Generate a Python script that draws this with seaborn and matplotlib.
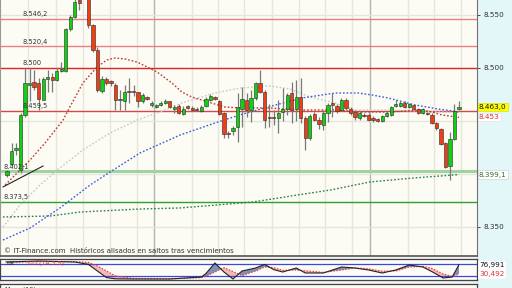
import numpy as np
import pandas as pd
import matplotlib
matplotlib.use("Agg")
import matplotlib.pyplot as plt
from matplotlib.patches import Rectangle
from matplotlib.ticker import FixedLocator, FuncFormatter
import seaborn as sns

sns.set_style("white")
plt.rcParams['font.family'] = ['DejaVu Sans']

# ---------------- data (index points) ----------------
opens = [8399, 8409, 8422, 8403, 8455, 8484, 8486, 8485, 8469, 8489,
         8491, 8488, 8497, 8497, 8536, 8548, 8564, 8583, 8568, 8540,
         8517, 8478, 8489, 8487, 8484, 8469, 8468, 8478, 8478, 8477,
         8468, 8472, 8465, 8463, 8465, 8467, 8468, 8461, 8464, 8456,
         8463, 8462, 8461, 8459, 8464, 8469, 8472, 8468, 8457, 8438,
         8440, 8444, 8461, 8469, 8460, 8471, 8485, 8477, 8453, 8453,
         8452, 8458, 8461, 8476, 8461, 8472, 8452, 8434, 8456, 8451,
         8446, 8457, 8467, 8464, 8460, 8469, 8461, 8458, 8452, 8455,
         8455, 8452, 8451, 8450, 8454, 8455, 8464, 8464, 8467, 8463,
         8465, 8461, 8457, 8457, 8455, 8448, 8442, 8429, 8407, 8433,
         8461]
closes = [8402, 8421, 8424, 8455, 8485, 8485, 8482, 8470, 8489, 8491,
          8488, 8497, 8499, 8536, 8548, 8562, 8561, 8573, 8540, 8517,
          8479, 8489, 8485, 8485, 8469, 8470, 8477, 8477, 8477, 8468,
          8474, 8470, 8466, 8465, 8467, 8468, 8463, 8463, 8457, 8461,
          8462, 8460, 8460, 8463, 8470, 8473, 8470, 8456, 8437, 8437,
          8443, 8463, 8470, 8460, 8471, 8485, 8477, 8451, 8452, 8452,
          8457, 8461, 8474, 8460, 8472, 8452, 8434, 8454, 8451, 8447,
          8457, 8465, 8465, 8459, 8469, 8462, 8457, 8453, 8457, 8454,
          8451, 8451, 8450, 8454, 8457, 8463, 8465, 8467, 8463, 8466,
          8461, 8457, 8461, 8456, 8448, 8443, 8428, 8406, 8433, 8459,
          8463]
highs = [8403, 8429, 8429, 8457, 8500, 8500, 8498, 8490, 8491, 8498,
         8495, 8500, 8505, 8537, 8550, 8568, 8568, 8592, 8573, 8541,
         8519, 8492, 8491, 8488, 8485, 8479, 8484, 8490, 8484, 8477,
         8476, 8473, 8468, 8466, 8468, 8470, 8468, 8465, 8466, 8464,
         8465, 8464, 8463, 8465, 8472, 8475, 8473, 8469, 8458, 8440,
         8445, 8476, 8482, 8476, 8479, 8486, 8498, 8479, 8466, 8460,
         8469, 8481, 8476, 8486, 8488, 8490, 8454, 8456, 8458, 8453,
         8460, 8467, 8476, 8466, 8471, 8471, 8463, 8460, 8459, 8457,
         8457, 8454, 8452, 8455, 8458, 8464, 8469, 8468, 8468, 8467,
         8466, 8462, 8462, 8458, 8457, 8449, 8443, 8430, 8439, 8466,
         8468]
lows = [8397, 8407, 8418, 8401, 8453, 8468, 8479, 8460, 8469, 8477,
        8477, 8487, 8496, 8496, 8534, 8547, 8554, 8568, 8537, 8515,
        8477, 8476, 8484, 8483, 8460, 8460, 8460, 8467, 8473, 8463,
        8467, 8469, 8463, 8462, 8464, 8466, 8462, 8457, 8456, 8455,
        8461, 8459, 8459, 8458, 8463, 8468, 8469, 8455, 8434, 8434,
        8436, 8430, 8444, 8453, 8449, 8469, 8476, 8443, 8444, 8446,
        8438, 8450, 8455, 8448, 8450, 8448, 8422, 8432, 8450, 8442,
        8441, 8449, 8453, 8457, 8459, 8460, 8455, 8451, 8451, 8453,
        8450, 8449, 8449, 8449, 8453, 8454, 8463, 8463, 8462, 8462,
        8460, 8456, 8456, 8455, 8447, 8441, 8427, 8405, 8394, 8432,
        8460]

# moving averages read at sample positions (candle index, value)
ma_red_x = [-0.4, 5.1, 8.4, 12.4, 13.9, 16.8, 19.9, 22.1, 23.9, 26.1, 28.8, 33.2, 36.5,
            38.7, 40.9, 44.5, 48.2, 51.5, 58.2, 64.8, 72.6, 78.1, 84.7, 91.4, 94.0, 96.2, 100]
ma_red_y = [8389.3, 8412.8, 8428.8, 8450.5, 8462.8, 8485.4, 8500.5, 8507.1, 8509.0, 8508.1,
            8505.2, 8495.8, 8485.4, 8476.9, 8472.2, 8467.5, 8462.8, 8461.9, 8461.9, 8460.0,
            8460.0, 8458.1, 8458.1, 8460.0, 8458.1, 8455.3, 8453.0]
ma_gray_x = [-0.9, 2.9, 7.3, 11.7, 16.8, 22.8, 28.8, 33.8, 38.7, 46.0, 51.5, 58.2, 62.6,
             67.0, 72.6, 77.0, 84.7, 95.8, 100]
ma_gray_y = [8349.6, 8370.4, 8389.3, 8405.3, 8422.3, 8438.3, 8450.5, 8458.1, 8466.6, 8476.0,
             8480.7, 8482.6, 8479.8, 8472.2, 8466.6, 8460.0, 8460.0, 8458.1, 8458.1]
ma_blue_x = [-0.9, 5.1, 11.7, 18.4, 22.8, 29.4, 38.3, 46.0, 51.5, 57.7, 65.3, 72.6, 77.7,
             80.8, 84.3, 90.3, 95.4, 100]
ma_blue_y = [8337.4, 8348.7, 8367.6, 8389.3, 8401.5, 8419.4, 8436.4, 8447.7, 8455.3, 8462.8,
             8471.3, 8476.0, 8476.0, 8474.1, 8471.3, 8464.7, 8460.9, 8458.1]
ma_green_x = [-0.9, 9.5, 16.2, 29.4, 38.3, 54.4, 64.2, 71.5, 80.3, 89.8, 100]
ma_green_y = [8359.1, 8360.0, 8363.8, 8366.6, 8367.6, 8373.2, 8379.8, 8384.5, 8392.1,
              8395.8, 8399.1]
trend_x = [-0.9, 8.0]
trend_y = [8387.4, 8407.2]

red_levels = [8546.2, 8520.4, 8500.0, 8459.5]
red_level_labels = ["8.546,2", "8.520,4", "8.500", "8.459,5"]
green_levels = [8402.1, 8373.5]
green_level_labels = ["8.402,1", "8.373,5"]
axis_ticks = [8550, 8500, 8350]

last_price = 8463.0
last_ma_red = 8453.0
last_ma_green = 8399.1

osc_x = [0, 7, 15, 18, 20, 22, 24, 28, 36, 43, 44, 46, 48, 50, 52, 55, 57, 59, 61, 64,
         66, 70, 74, 77, 80, 83, 86, 89, 92, 94, 96.5, 98.5, 100]
osc_k = [90, 95, 90, 78, 45, 12, 6, 5, 5, 15, 32, 85, 40, 5, 45, 60, 78, 52, 40, 60,
         35, 35, 65, 60, 50, 35, 50, 75, 65, 42, 10, 15, 76.991]
osc_d = [88, 92, 92, 88, 70, 45, 20, 8, 6, 12, 18, 40, 62, 42, 22, 45, 65, 62, 48, 50,
         46, 38, 50, 60, 56, 44, 45, 65, 68, 58, 30, 18, 30.492]

grid_light = [4.6, 10.8, 16.8, 22.8, 28.8, 40.9, 46.7, 52.4, 58.6, 64.6, 70.4, 76.3,
              88.7, 94.5, 100.4]
grid_dark = [32.5, 80.3]

# ---------------- figure ----------------
W, H = 512, 288
fig = plt.figure(figsize=(W / 100, H / 100), dpi=100, facecolor='#e3f6f8')
fig.patches.append(Rectangle((0, 0), 477 / W, 1, transform=fig.transFigure,
                             facecolor='#f2f2f2', edgecolor='none', zorder=-10))

XL = (-7 / 4.52, 470 / 4.52)
ax = fig.add_axes([0, 32 / H, 477 / W, 256 / H])
ax.set_facecolor('#fcfcf5')
ax.set_xlim(*XL)
ax.set_ylim(8322.3, 8563.7)

for g in grid_light:
    ax.axvline(g, color='#e6e6dc', lw=1.0, zorder=0)
for g in grid_dark:
    ax.axvline(g, color='#b4b4b0', lw=1.0, zorder=0)
for lv in [8350, 8400, 8450, 8500, 8550]:
    ax.axhline(lv, color='#e6e6dc', lw=1.0, zorder=0)

red_cols = ['#ec8080', '#ec8080', '#dc2a2a', '#d44848']
for lv, lab, c in zip(red_levels, red_level_labels, red_cols):
    ax.axhline(lv, color=c, lw=1.0, zorder=1)
    ax.text(1.2 / 100 * 4, lv + 1.2, lab, fontsize=4.8, color='#333333',
            transform=ax.get_yaxis_transform(), va='bottom', ha='left', zorder=6)
ax.axhline(green_levels[0], color='#9fd39f', lw=2.2, zorder=1)
ax.axhline(green_levels[1], color='#2f9f2f', lw=1.0, zorder=1)
for lv, lab in zip(green_levels, green_level_labels):
    ax.text(0.008, lv + 1.6, lab, fontsize=4.8, color='#333333',
            transform=ax.get_yaxis_transform(), va='bottom', ha='left', zorder=6)

# moving averages via seaborn
ma_specs = [(ma_gray_x, ma_gray_y, '#c8c8c4'), (ma_blue_x, ma_blue_y, '#3a5adc'),
            (ma_green_x, ma_green_y, '#2e7d4a'), (ma_red_x, ma_red_y, '#c0392b')]
for xs, ys, col in ma_specs:
    df = pd.DataFrame({'x': xs, 'y': ys})
    sns.lineplot(data=df, x='x', y='y', ax=ax, color=col, lw=1.0, sort=False,
                 estimator=None, linestyle=(0, (1.2, 1.4)), zorder=2)
ax.plot(trend_x, trend_y, color='#222222', lw=0.8, zorder=3)

# candles
idx = np.arange(len(opens))
o = np.array(opens, float); c = np.array(closes, float)
h = np.array(highs, float); l = np.array(lows, float)
ax.vlines(idx, l, h, color='#7a7a7a', lw=0.9, zorder=3)
up = c >= o
body_h = np.where(np.abs(c - o) < 1.3, 1.3, np.abs(c - o))
bottom = np.minimum(o, c)
ax.bar(idx[up], body_h[up], bottom=bottom[up], width=0.72, color='#11d011',
       edgecolor='#2a2a2a', lw=0.4, zorder=4)
ax.bar(idx[~up], body_h[~up], bottom=bottom[~up], width=0.72, color='#f23c12',
       edgecolor='#2a2a2a', lw=0.4, zorder=4)

ax.text(4 / 477, 5 / 256, "\u00a9 IT-Finance.com  Históricos alisados en saltos tras vencimientos",
        transform=ax.transAxes, fontsize=5.0, color='#333333', va='center', ha='left', zorder=6)

ax.set_xticks([])
ax.yaxis.tick_right()
ax.yaxis.set_major_locator(FixedLocator(axis_ticks))
ax.yaxis.set_major_formatter(FuncFormatter(lambda v, p: f"{v:,.0f}".replace(",", ".")))
ax.tick_params(axis='y', labelsize=5.2, length=2, width=0.6, pad=3, colors='#333333')
for s in ['top']:
    ax.spines[s].set_visible(False)
ax.spines['left'].set_color('#9a9a9a'); ax.spines['left'].set_linewidth(0.8)
ax.spines['right'].set_color('#707070'); ax.spines['right'].set_linewidth(0.8)
ax.spines['bottom'].set_color('#555555'); ax.spines['bottom'].set_linewidth(1.2)

def rlabel(axis, val, text, fc, tc, ec):
    axis.text(1.004, val, text, transform=axis.get_yaxis_transform(), fontsize=5.2,
              color=tc, va='center', ha='left', zorder=10, clip_on=False,
              bbox=dict(boxstyle='square,pad=0.15', fc=fc, ec=ec, lw=0.4))

rlabel(ax, last_price, "8.463,0", '#ffff00', '#111111', '#d8d800')
rlabel(ax, last_ma_red, "8.453", '#ffffff', '#e03030', '#dddddd')
rlabel(ax, last_ma_green, "8.399,1", '#ffffff', '#356b35', '#c8c8c8')

# ---------------- oscillator ----------------
osc = fig.add_axes([0, 8 / H, 477 / W, 21 / H])
osc.set_facecolor('#fcfcf5')
osc.set_xlim(*XL)
osc.set_ylim(0, 105)
ok = np.array(osc_k); od = np.array(osc_d); ox = np.array(osc_x)
osc.fill_between(ox, ok, od, where=od >= ok, interpolate=True, color='#f3b8b8', lw=0, zorder=1)
osc.fill_between(ox, ok, od, where=ok > od, interpolate=True, color='#8090bc', lw=0, zorder=1)
osc.axhline(80, color='#3848e0', lw=0.9, zorder=2)
osc.axhline(20, color='#3848e0', lw=0.9, zorder=2)
dfk = pd.DataFrame({'x': osc_x, 'k': osc_k, 'd': osc_d})
sns.lineplot(data=dfk, x='x', y='d', ax=osc, color='#ee4040', lw=0.9, sort=False,
             estimator=None, linestyle=(0, (1.2, 1.2)), zorder=3)
sns.lineplot(data=dfk, x='x', y='k', ax=osc, color='#222222', lw=0.8, sort=False,
             estimator=None, zorder=4)
osc.text(0.01, 0.92, "%K", transform=osc.transAxes, fontsize=4.6, color='#222222',
         va='top', ha='left', zorder=6)
osc.text(0.055, 0.92, "%D (14,3,5)", transform=osc.transAxes, fontsize=4.6, color='#ee3030',
         va='top', ha='left', zorder=6)
osc.set_xticks([]); osc.set_yticks([])
osc.set_xlabel(''); osc.set_ylabel('')
for s in osc.spines.values():
    s.set_color('#444444'); s.set_linewidth(0.9)
rlabel(osc, 76.991, "76,991", '#ffffff', '#111111', '#ffffff')
rlabel(osc, 30.492, "30,492", '#ffffff', '#e03030', '#ffffff')

# ---------------- third (cut) panel ----------------
ax3 = fig.add_axes([0, -16 / H, 477 / W, 20 / H])
ax3.set_facecolor('#fcfcf5')
ax3.set_xticks([]); ax3.set_yticks([])
for s in ax3.spines.values():
    s.set_color('#444444'); s.set_linewidth(0.9)
ax3.text(0.01, 0.86, "Mom (10)", transform=ax3.transAxes, fontsize=4.6, color='#222222',
         va='top', ha='left')

ax.set_xlabel(''); ax.set_ylabel('')
fig.savefig('out.png', dpi=100, facecolor=fig.get_facecolor())
